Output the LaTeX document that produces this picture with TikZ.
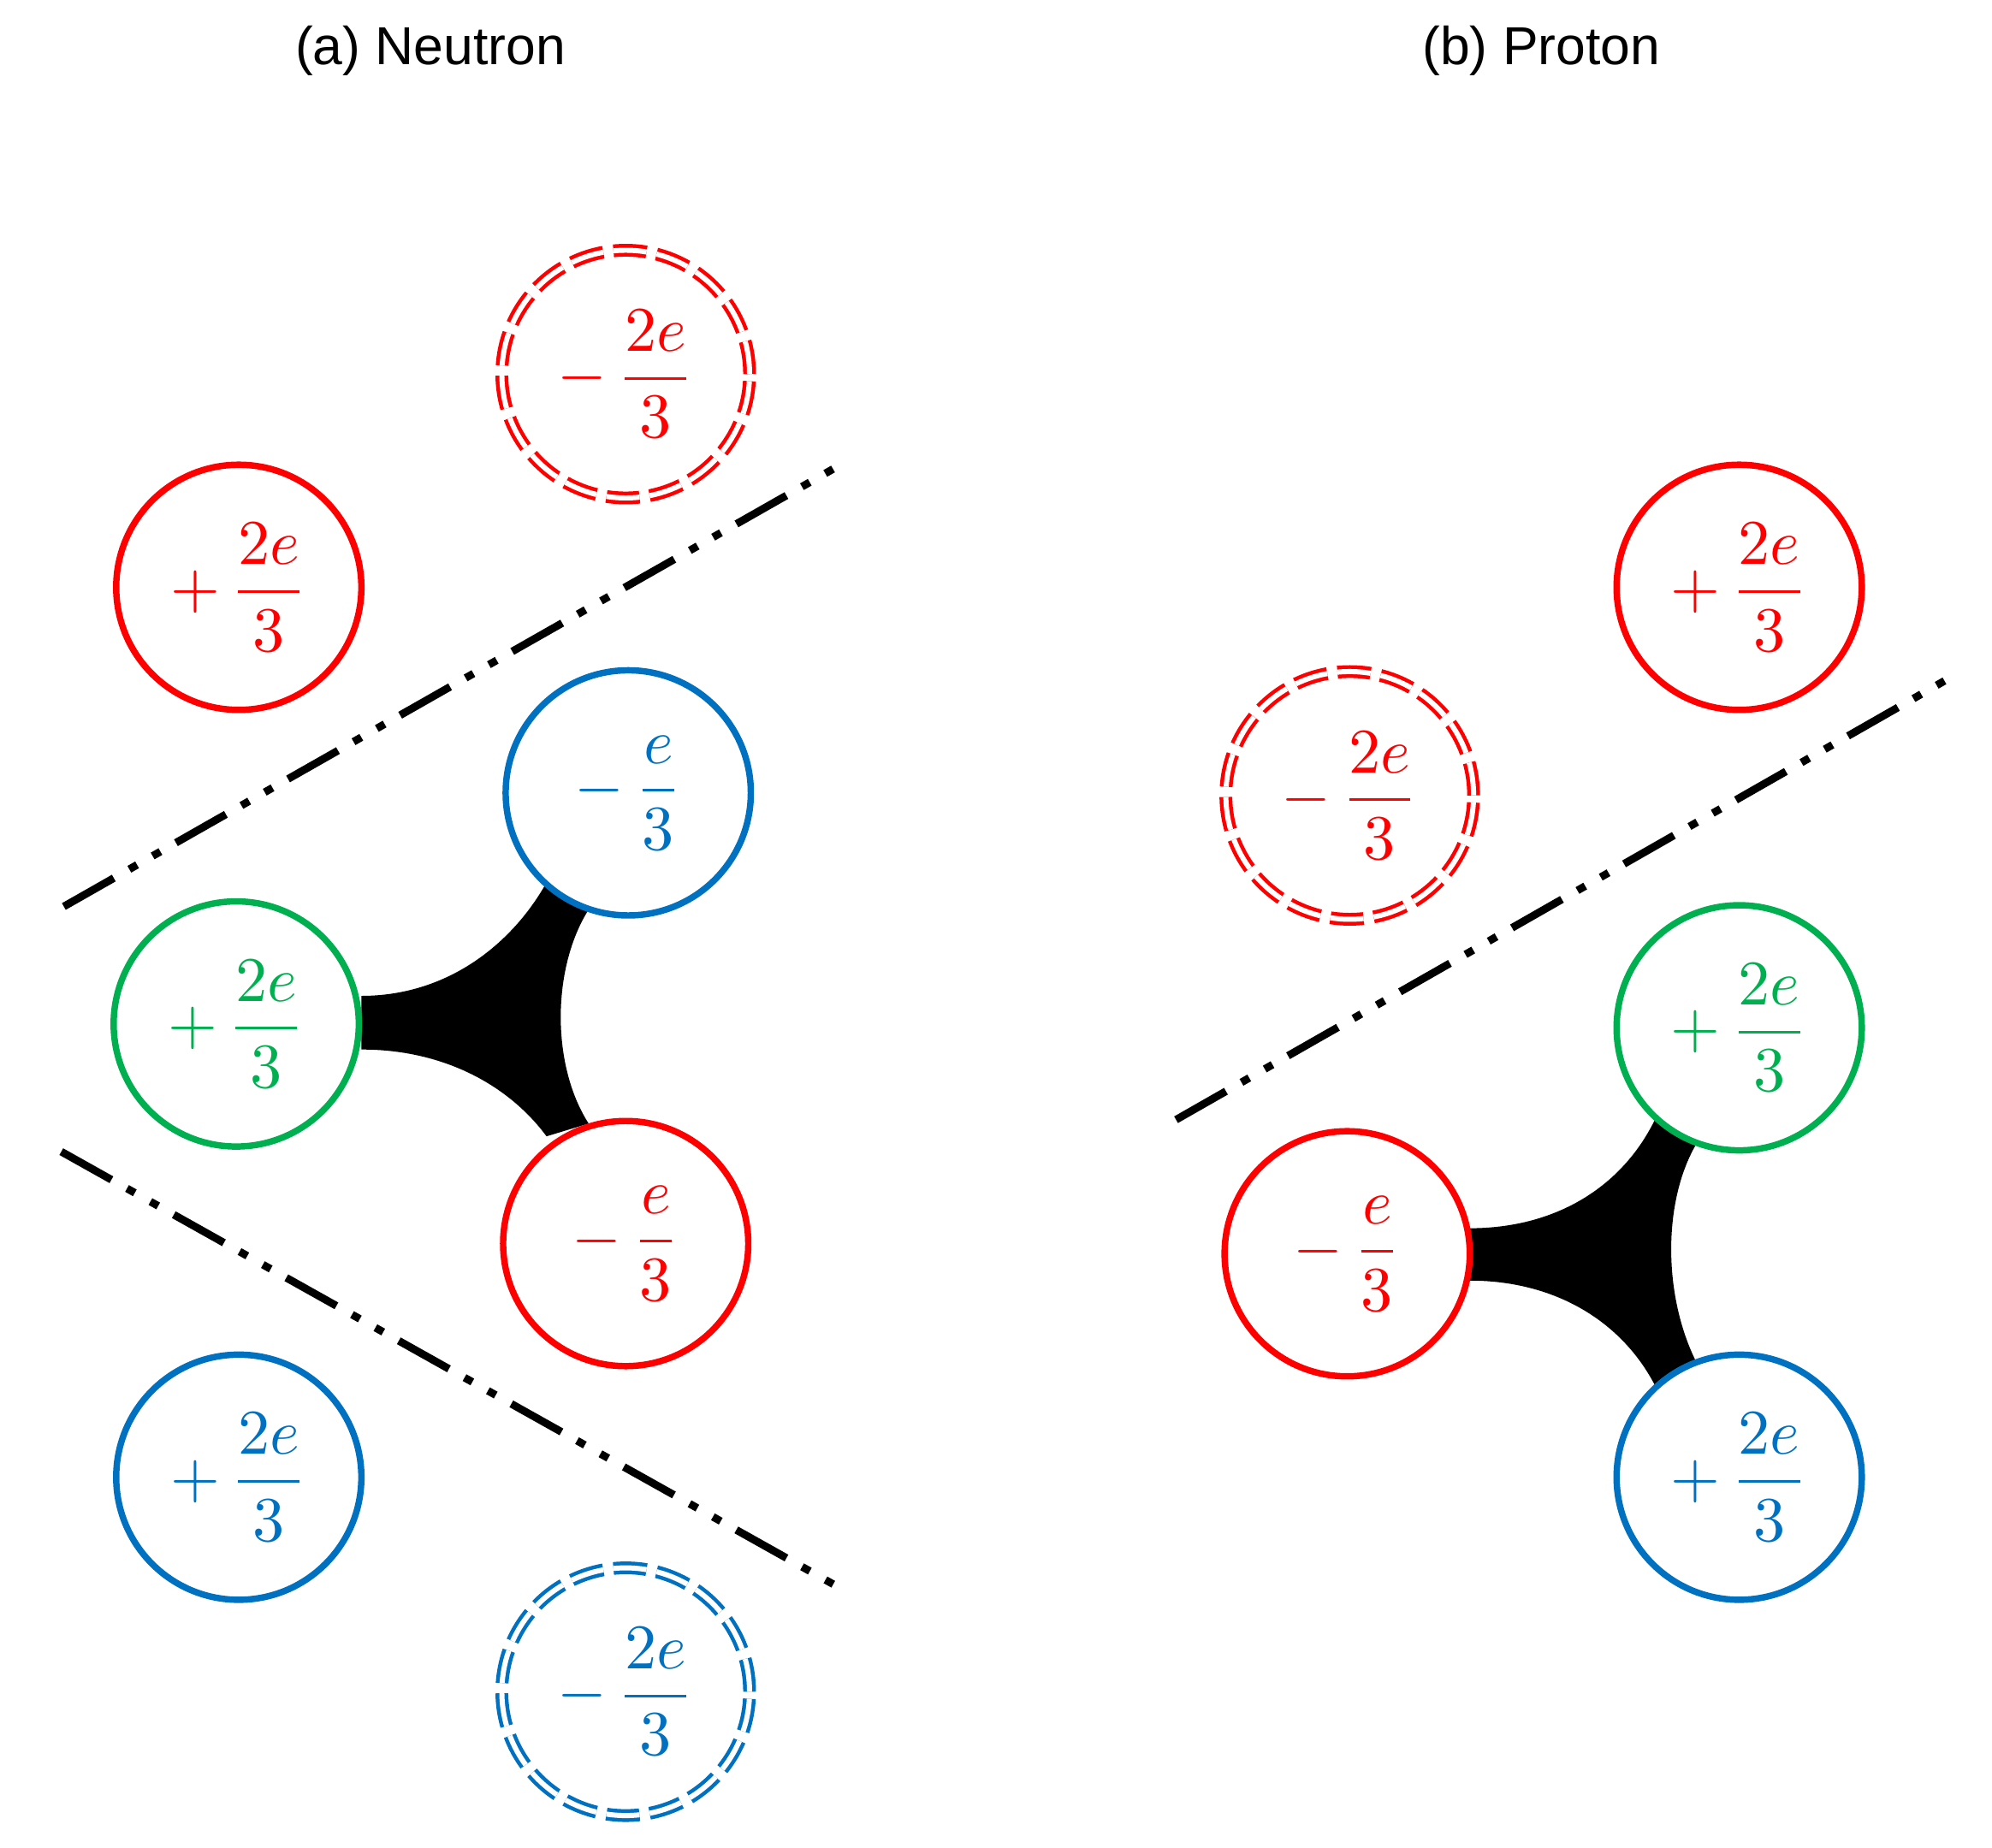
\documentclass[tikz,border=0pt]{standalone}
\usepackage{fontspec}
\setmainfont{Liberation Sans}
\newcommand{\qtxt}[1]{\scalebox{5.0}{$\displaystyle #1$}}
\begin{document}
\begin{tikzpicture}[x=1bp,y=-1bp,
  qk/.style={circle,draw=#1,text=#1,line width=5bp,minimum size=192bp,inner sep=0pt},
  qd/.style={circle,draw=#1,text=#1,double=white,double distance=4bp,line width=3bp,dash pattern=on 26bp off 8bp,minimum size=194bp,inner sep=0pt},
  dd/.style={line width=6bp,dash pattern=on 45bp off 14bp on 7bp off 14bp on 7bp off 14bp},
  ttl/.style={font=\fontsize{42}{48}\selectfont}]
\definecolor{qr}{HTML}{FF0000}
\definecolor{qb}{HTML}{0070C0}
\definecolor{qg}{HTML}{00B050}
\useasboundingbox (0,0) rectangle (1560,1447);
\node[ttl] (ta) at (337,40) {(a) Neutron};
\node[ttl] (tb) at (1207,40) {(b) Proton};
% neutron glue
\fill (283,780) .. controls (350,780) and (400,740) .. (427,693) -- (460,714) .. controls (432,760) and (432,835) .. (461,880) -- (428,890) .. controls (400,852) and (350,822) .. (283,822) -- cycle;
% proton glue
\fill (1151,962) .. controls (1218,962) and (1270,930) .. (1296,877) -- (1329,895) .. controls (1302,940) and (1302,1015) .. (1329,1068) -- (1296,1085) .. controls (1270,1035) and (1218,1003) .. (1151,1003) -- cycle;
\node[qk=qr] (n1) at (187,460) {\qtxt{+\,\frac{2e}{3}}};
\node[qd=qr] (n2) at (490,293) {\qtxt{-\,\frac{2e}{3}}};
\node[qk=qb] (n3) at (492,621) {\qtxt{-\,\frac{e}{3}}};
\node[qk=qg] (n4) at (185,802) {\qtxt{+\,\frac{2e}{3}}};
\node[qk=qr] (n5) at (490,974) {\qtxt{-\,\frac{e}{3}}};
\node[qk=qb] (n6) at (187,1157) {\qtxt{+\,\frac{2e}{3}}};
\node[qd=qb] (n7) at (490,1325) {\qtxt{-\,\frac{2e}{3}}};
\node[qk=qr] (p1) at (1362,460) {\qtxt{+\,\frac{2e}{3}}};
\node[qd=qr] (p2) at (1057,623) {\qtxt{-\,\frac{2e}{3}}};
\node[qk=qg] (p3) at (1362,805) {\qtxt{+\,\frac{2e}{3}}};
\node[qk=qr] (p4) at (1055,982) {\qtxt{-\,\frac{e}{3}}};
\node[qk=qb] (p5) at (1362,1157) {\qtxt{+\,\frac{2e}{3}}};
\coordinate (l1a) at (50,710); \coordinate (l1b) at (660,363);
\coordinate (l2a) at (48,902); \coordinate (l2b) at (660,1245);
\coordinate (l3a) at (921,877); \coordinate (l3b) at (1532,528);
\draw[dd] (l1a) -- (l1b);
\draw[dd] (l2a) -- (l2b);
\draw[dd] (l3a) -- (l3b);
\end{tikzpicture}
\end{document}
